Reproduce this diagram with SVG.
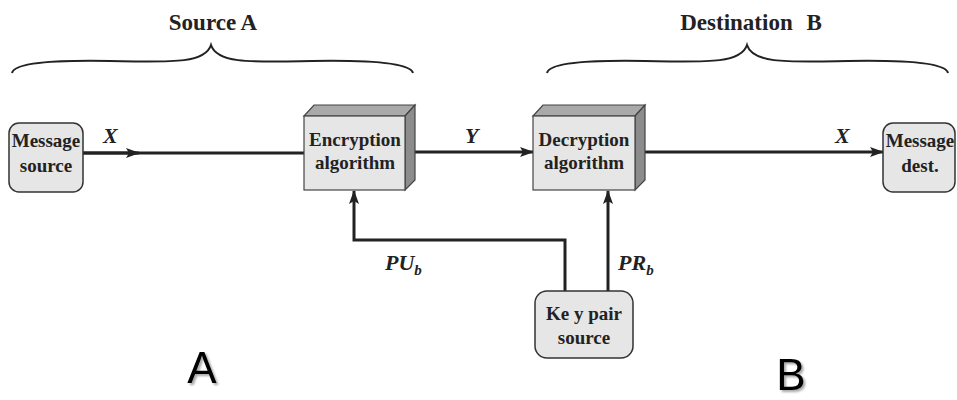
<svg xmlns="http://www.w3.org/2000/svg" width="957" height="400" viewBox="0 0 957 400">
  <style>
    .title { font-family: "Liberation Serif", "Times New Roman", serif; font-weight: bold; font-size: 23px; fill: #222; text-anchor: middle; }
    .lbl { font-family: "Liberation Serif", "Times New Roman", serif; font-weight: bold; font-size: 19px; fill: #222; text-anchor: middle; }
    .var { font-family: "Liberation Serif", "Times New Roman", serif; font-weight: bold; font-style: italic; font-size: 22px; fill: #222; }
    .sub { font-size: 15px; }
    .big { font-family: "Liberation Sans", Arial, sans-serif; font-size: 44px; fill: #000; text-anchor: middle; }
    .brace { fill: none; stroke: #222; stroke-width: 2; }
    .rbox { fill: #e6e6e6; stroke: #333; stroke-width: 1.5; }
    .front { fill: #e6e6e6; stroke: #444; stroke-width: 1.2; }
    .top { fill: #a9a9a9; stroke: #444; stroke-width: 1.2; }
    .side { fill: #8c8c8c; stroke: #444; stroke-width: 1.2; }
    .wire { fill: none; stroke: #222; stroke-width: 3; }
  </style>
  <defs>
    <marker id="arrow" viewBox="0 0 14 10" refX="13" refY="5" markerWidth="14" markerHeight="10" markerUnits="userSpaceOnUse" orient="auto">
      <path d="M0,0 L14,5 L0,10 L3,5 Z" fill="#222"/>
    </marker>
    <filter id="shadow" x="-10%" y="-10%" width="130%" height="125%">
      <feDropShadow dx="2" dy="2" stdDeviation="1.2" flood-color="#000" flood-opacity="0.35"/>
    </filter>
  </defs>

  <!-- braces and side titles -->
  <g id="source-a">
    <text class="title" x="213" y="30">Source A</text>
    <path class="brace" d="M12,73 C14,63 50,60 110,61 C170,62 205,64 211,45 C217,64 252,62 312,61 C372,60 410,63 413,73"/>
  </g>
  <g id="destination-b">
    <text class="title" x="751" y="30" word-spacing="8">Destination B</text>
    <path class="brace" d="M547,73 C549,63 585,60 645,61 C705,62 741,64 747,45 C753,64 788,62 848,61 C908,60 946,63 948,73"/>
  </g>

  <!-- connectors -->
  <g id="connectors">
    <line class="wire" x1="83" y1="153" x2="304" y2="153"/>
    <line class="wire" x1="83" y1="153" x2="139" y2="153" marker-end="url(#arrow)"/>
    <line class="wire" x1="410" y1="152" x2="533" y2="152" marker-end="url(#arrow)"/>
    <line class="wire" x1="640" y1="152" x2="883" y2="152" marker-end="url(#arrow)"/>
    <polyline class="wire" points="565,291 565,240 354,240 354,191" marker-end="url(#arrow)"/>
    <line class="wire" x1="608" y1="291" x2="608" y2="191" marker-end="url(#arrow)"/>
    <text class="var" x="103" y="143">X</text>
    <text class="var" x="465" y="143">Y</text>
    <text class="var" x="835" y="143">X</text>
    <text class="var" x="385" y="270">PU<tspan class="sub" dy="5">b</tspan></text>
    <text class="var" x="618" y="270">PR<tspan class="sub" dy="5">b</tspan></text>
  </g>

  <!-- nodes -->
  <g id="message-source">
    <rect class="rbox" x="9" y="123" width="74" height="69" rx="10"/>
    <text class="lbl" x="46" y="147">Message</text>
    <text class="lbl" x="46" y="172">source</text>
  </g>

  <g id="encryption">
    <polygon class="top" points="304,116 314,105 415,105 405,116"/>
    <polygon class="side" points="405,116 415,105 415,180 405,190"/>
    <rect class="front" x="304" y="116" width="101" height="74"/>
    <text class="lbl" x="355" y="146">Encryption</text>
    <text class="lbl" x="355" y="169">algorithm</text>
  </g>

  <g id="decryption">
    <polygon class="top" points="533,116 543,105 645,105 635,116"/>
    <polygon class="side" points="635,116 645,105 645,180 635,190"/>
    <rect class="front" x="533" y="116" width="102" height="74"/>
    <text class="lbl" x="584" y="146">Decryption</text>
    <text class="lbl" x="584" y="169">algorithm</text>
  </g>

  <g id="message-dest">
    <rect class="rbox" x="883" y="123" width="72" height="69" rx="10"/>
    <text class="lbl" x="920" y="147">Message</text>
    <text class="lbl" x="920" y="172">dest.</text>
  </g>

  <g id="key-pair-source">
    <rect class="rbox" x="535" y="291" width="98" height="67" rx="12"/>
    <text class="lbl" x="584" y="320">Ke y pair</text>
    <text class="lbl" x="584" y="344">source</text>
  </g>

  <!-- party markers -->
  <g id="party-a">
    <text class="big" x="202" y="383" filter="url(#shadow)">A</text>
  </g>
  <g id="party-b">
    <text class="big" x="791" y="390" filter="url(#shadow)">B</text>
  </g>
</svg>
